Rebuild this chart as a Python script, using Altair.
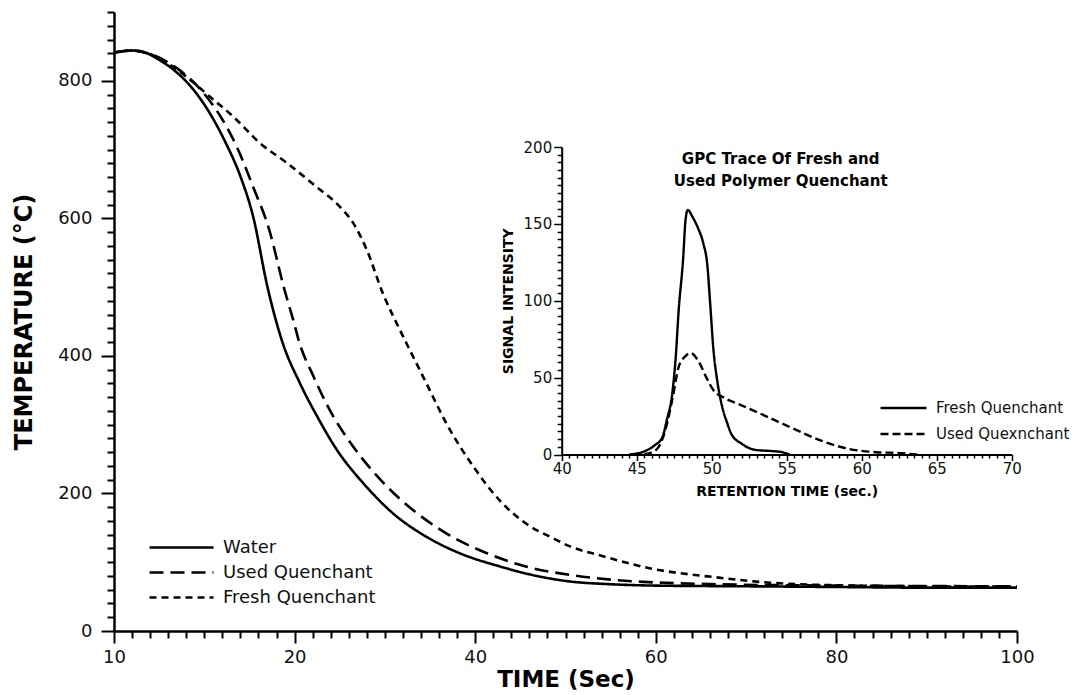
import altair as alt
import pandas as pd

# ---------------- main chart data (time in s, temperature in °C) ----------------
water_t = [10, 11, 12, 12.2, 13.3, 14.4, 15.3, 16.2, 17.0, 17.7, 18.5, 19.3, 20.6, 22.5, 24.7, 27.6,
           30.9, 34.6, 38.3, 42.7, 47.2, 50.5, 55, 60, 70, 80, 90, 100]
water_v = [841, 844, 838, 835, 816, 787, 753, 709, 661, 603, 500, 422, 360, 312, 263, 215,
           171, 137, 113, 94, 79, 72, 68, 66, 65, 64, 63, 63]

used_t = [10, 11, 12, 13.5, 14.8, 15.9, 16.8, 17.7, 18.6, 19.4, 20.0, 20.4, 22.1, 23.9, 26.5, 29.5,
          33.1, 36.8, 41.3, 45.7, 50.5, 55.7, 66.7, 80, 100]
used_v = [841, 844, 839, 818, 787, 748, 704, 646, 583, 500, 445, 425, 370, 321, 268, 220,
          176, 142, 113, 93.5, 81.5, 74, 68, 66, 65]

fresh_t = [10, 11, 12, 12.7, 14.0, 15.3, 16.6, 18.1, 19.6, 22.4, 25.0, 26.5, 28.0, 29.8, 31.5, 32.4,
           34.6, 36.8, 39.8, 42.7, 46.1, 48.3, 50.5, 53.8, 59.4, 66.7, 74.1, 85.2, 100]
fresh_v = [841, 844, 839, 830, 806, 777, 748, 709, 680, 646, 617, 593, 554, 490, 442, 418,
           360, 302, 239, 190, 152, 137, 123, 110, 91, 78, 69, 65.5, 64.5]

main_names = ["Water", "Used Quenchant", "Fresh Quenchant"]
main_dashes = [[1, 0], [14, 7], [7, 5]]

# ---------------- inset data (retention time in s, signal intensity) ----------------
gpc_fresh_t = [44.5, 45.5, 46.2, 46.7, 47.0, 47.4, 47.6, 47.8, 48.1, 48.25, 48.4, 48.75, 49.1, 49.45,
               49.7, 49.9, 50.1, 50.4, 50.7, 51.05, 51.3, 52.0, 52.9, 54.05, 54.7, 55.2]
gpc_fresh_v = [0, 2, 6, 11, 22, 42, 63, 94, 128, 152, 159, 154, 147, 137,
               124, 98, 70, 46, 31, 20, 13.5, 7, 3, 2.2, 1.5, 0]

gpc_used_t = [45.5, 46.3, 46.9, 47.4, 47.8, 48.25, 48.6, 49.1, 49.7, 50.1, 50.8, 51.75, 53.6, 55.4,
              57.3, 59.1, 61.0, 62.35, 63.7]
gpc_used_v = [0, 3, 15.6, 37, 57, 64, 66, 61, 49, 42, 37, 33, 25, 17,
              9, 3.7, 1.5, 1, 0]

inset_names = ["Fresh Quenchant", "Used Quexnchant"]
inset_dashes = [[1, 0], [8, 4]]

inset_title = "GPC Trace Of Fresh and\nUsed Polymer Quenchant"

# ---------------- tables ----------------
main_df = pd.concat([
    pd.DataFrame({"time": water_t, "temp": water_v, "series": main_names[0]}),
    pd.DataFrame({"time": used_t, "temp": used_v, "series": main_names[1]}),
    pd.DataFrame({"time": fresh_t, "temp": fresh_v, "series": main_names[2]}),
], ignore_index=True)

inset_df = pd.concat([
    pd.DataFrame({"rt": gpc_fresh_t, "sig": gpc_fresh_v, "series": inset_names[0]}),
    pd.DataFrame({"rt": gpc_used_t, "sig": gpc_used_v, "series": inset_names[1]}),
], ignore_index=True)

title_df = pd.DataFrame({"rt": [54.6], "sig": [192.5], "label": [inset_title]})

# ---------------- geometry ----------------
W, H = 903, 619
FONT = "DejaVu Sans"

x_main = alt.Scale(domain=[10, 20, 100], range=[0, 180.6, W], nice=False, zero=False)
y_main = alt.Scale(domain=[0, 900], range=[H, 0], nice=False, zero=True)

ix0, ix1 = 447.7, 897.7
iy0, iy1 = 442.5, 135
x_in = alt.Scale(domain=[40, 70], range=[ix0, ix1], nice=False, zero=False)
y_in = alt.Scale(domain=[0, 200], range=[iy0, iy1], nice=False, zero=True)

x_major = [10, 20, 40, 60, 80, 100]
x_minor = [v for v in list(range(11, 20)) + list(range(22, 100, 2)) if v not in x_major]
y_major = [0, 200, 400, 600, 800]
y_minor = [v for v in range(0, 901, 20) if v not in y_major]

ix_major = [40, 45, 50, 55, 60, 65, 70]
ix_minor = [40 + 0.5 * i for i in range(61) if (40 + 0.5 * i) not in ix_major]
iy_major = [0, 50, 100, 150, 200]
iy_minor = [v for v in range(0, 201, 5) if v not in iy_major]

ax_common = dict(domainColor="black", tickColor="black", labelColor="#111",
                 labelFont=FONT, titleFont=FONT, titleColor="black", grid=False)

main_lines = alt.Chart(main_df).mark_line(color="black", strokeWidth=2.6, interpolate="monotone",
                                          strokeCap="butt").encode(
    x=alt.X("time:Q", scale=x_main,
            axis=alt.Axis(orient="bottom", values=x_major, tickSize=12, tickWidth=2, domainWidth=2.5,
                          labelFontSize=18, labelPadding=5, labelFlush=False, title="TIME (Sec)",
                          titleFontSize=23, titleFontWeight="bold", titlePadding=2, **ax_common)),
    y=alt.Y("temp:Q", scale=y_main,
            axis=alt.Axis(orient="left", values=y_major, tickSize=13, tickWidth=2, domainWidth=2.5,
                          labelFontSize=18, labelPadding=9, title="TEMPERATURE (°C)", titleFontSize=24,
                          titleFontWeight="bold", titlePadding=21, **ax_common)),
    strokeDash=alt.StrokeDash("series:N", scale=alt.Scale(domain=main_names, range=main_dashes),
                              legend=alt.Legend(orient="none", legendX=34, legendY=523, title=None,
                                                symbolType="stroke", symbolSize=4096, symbolStrokeWidth=2.6,
                                                symbolStrokeColor="black", labelFont=FONT, labelFontSize=18,
                                                labelColor="#111", labelOffset=8, clipHeight=25,
                                                rowPadding=0, padding=0)),
    order=alt.Order("time:Q"),
)

main_minor = alt.Chart(main_df).mark_point(opacity=0).encode(
    x=alt.X("time:Q", scale=x_main,
            axis=alt.Axis(orient="bottom", values=x_minor, tickSize=7, tickWidth=2, labels=False,
                          domain=False, title=None, **ax_common)),
    y=alt.Y("temp:Q", scale=y_main,
            axis=alt.Axis(orient="left", values=y_minor, tickSize=7, tickWidth=2, labels=False,
                          domain=False, title=None, **ax_common)),
)

inset_lines = alt.Chart(inset_df).mark_line(color="black", strokeWidth=2.4, interpolate="monotone",
                                            strokeCap="butt").encode(
    x=alt.X("rt:Q", scale=x_in,
            axis=alt.Axis(orient="bottom", offset=-(H - iy0), values=ix_major, tickSize=6, tickWidth=1.5,
                          domainWidth=2, labelFontSize=15, labelPadding=1, labelFlush=False,
                          title="RETENTION TIME (sec.)", titleFontSize=14, titleFontWeight="bold",
                          titlePadding=8, **ax_common)),
    y=alt.Y("sig:Q", scale=y_in,
            axis=alt.Axis(orient="left", offset=-ix0, values=iy_major, tickSize=8, tickWidth=1.5,
                          domainWidth=2, labelFontSize=15, labelPadding=2, title="SIGNAL INTENSITY",
                          titleFontSize=14, titleFontWeight="bold", titlePadding=8, **ax_common)),
    strokeDash=alt.StrokeDash("series:N", scale=alt.Scale(domain=inset_names, range=inset_dashes),
                              legend=alt.Legend(orient="none", legendX=765, legendY=383, title=None,
                                                symbolType="stroke", symbolSize=2116, symbolStrokeWidth=2.4,
                                                symbolStrokeColor="black", labelFont=FONT, labelFontSize=15,
                                                labelColor="#111", labelOffset=8, clipHeight=26,
                                                rowPadding=0, padding=0)),
    order=alt.Order("rt:Q"),
)

inset_minor = alt.Chart(inset_df).mark_point(opacity=0).encode(
    x=alt.X("rt:Q", scale=x_in,
            axis=alt.Axis(orient="bottom", offset=-(H - iy0), values=ix_minor, tickSize=3.5, tickWidth=1.5,
                          labels=False, domain=False, title=None, **ax_common)),
    y=alt.Y("sig:Q", scale=y_in,
            axis=alt.Axis(orient="left", offset=-ix0, values=iy_minor, tickSize=4.5, tickWidth=1.5,
                          labels=False, domain=False, title=None, **ax_common)),
)

inset_text = alt.Chart(title_df).mark_text(font=FONT, fontSize=15, fontWeight="bold", color="black",
                                           lineBreak="\n", lineHeight=22, align="center",
                                           baseline="middle").encode(
    x=alt.X("rt:Q", scale=x_in, axis=None),
    y=alt.Y("sig:Q", scale=y_in, axis=None),
    text="label:N",
)

chart = alt.layer(main_lines, main_minor, inset_lines, inset_minor, inset_text).resolve_scale(
    x="independent", y="independent", strokeDash="independent"
).properties(
    width=W, height=H,
    autosize=alt.AutoSizeParams(type="none"),
    padding={"left": 114, "top": 12, "right": 58, "bottom": 64},
    background="white",
).configure_view(stroke=None)

chart.save("out.html", embed_options={"renderer": "svg", "actions": False})
